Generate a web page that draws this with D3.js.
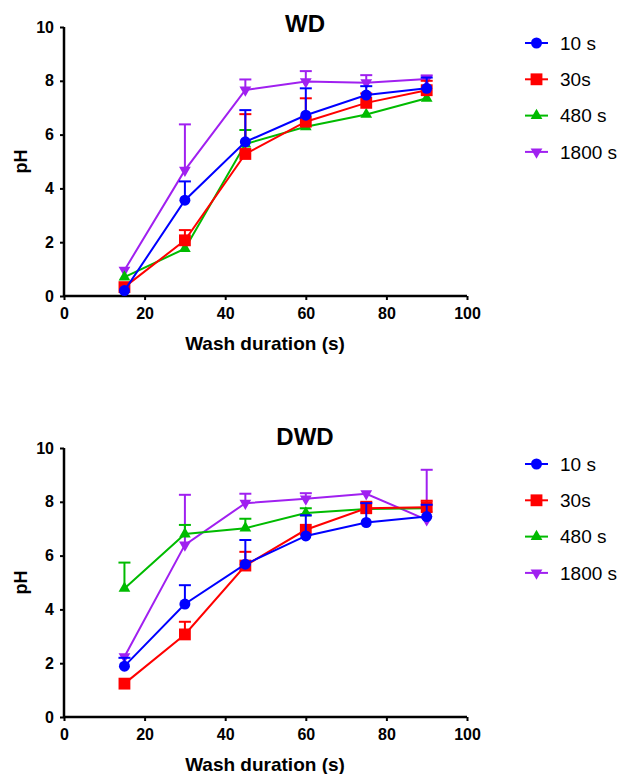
<!DOCTYPE html>
<html>
<head>
<meta charset="utf-8">
<script src="https://cdn.jsdelivr.net/npm/d3@7"></script>
<style>
  body { margin: 0; background: #fff; }
  svg { font-family: "Liberation Sans", Arial, sans-serif; }
</style>
</head>
<body>
<svg id="chart" width="617" height="774"></svg>
<script>
// wash durations (x) shared by every series
const washDurations = [15, 30, 45, 60, 75, 90];

const seriesNames = ["10 s", "30s", "480 s", "1800 s"];
const seriesColours = ["#0000ff", "#ff0000", "#00bb00", "#a020f0"];
const seriesSymbols = ["circle", "square", "triangle", "triangleDown"];

// WD panel: means and upper error bar ends (null = bar hidden)
const wd10 = [0.2, 3.56, 5.73, 6.72, 7.47, 7.72];
const wd10Err = [null, 4.26, 6.91, 7.72, 7.8, 8.12];
const wd30 = [0.33, 2.07, 5.28, 6.48, 7.18, 7.65];
const wd30Err = [null, 2.45, 6.76, 7.35, 7.53, 8.0];
const wd480 = [0.7, 1.76, 5.65, 6.29, 6.75, 7.35];
const wd480Err = [null, null, 6.17, null, null, null];
const wd1800 = [0.96, 4.68, 7.66, 7.97, 7.93, 8.07];
const wd1800Err = [null, 6.38, 8.05, 8.36, 8.21, 8.2];

// DWD panel
const dwd10 = [1.89, 4.2, 5.68, 6.73, 7.23, 7.45];
const dwd10Err = [2.2, 4.9, 6.58, 7.5, 7.95, 7.89];
const dwd30 = [1.24, 3.07, 5.63, 6.96, 7.76, 7.8];
const dwd30Err = [null, 3.54, 6.14, null, 8.0, 8.04];
const dwd480 = [4.78, 6.8, 7.02, 7.58, 7.73, 7.76];
const dwd480Err = [5.74, 7.14, 7.37, 7.76, null, null];
const dwd1800 = [2.24, 6.4, 7.95, 8.11, 8.3, 7.33];
const dwd1800Err = [null, 8.26, 8.3, 8.32, null, 9.19];

const xTicks = [0, 20, 40, 60, 80, 100];
const yTicks = [0, 2, 4, 6, 8, 10];

const panels = [
  { title: "WD", top: 27, titleY: 5, means: [wd10, wd30, wd480, wd1800], errs: [wd10Err, wd30Err, wd480Err, wd1800Err] },
  { title: "DWD", top: 448, titleY: -3, means: [dwd10, dwd30, dwd480, dwd1800], errs: [dwd10Err, dwd30Err, dwd480Err, dwd1800Err] }
];

const svg = d3.select("#chart");
const left = 64, plotW = 403, plotH = 269;

const symbolTypes = {
  circle: d3.symbolCircle,
  square: d3.symbolSquare,
  triangle: d3.symbolTriangle,
  triangleDown: d3.symbolTriangle
};
const symbolSizes = { circle: 95, square: 140, triangle: 60, triangleDown: 60 };

function marker(g, kind, colour) {
  g.append("path")
    .attr("d", d3.symbol(symbolTypes[kind], symbolSizes[kind])())
    .attr("transform", kind === "triangleDown" ? "rotate(180)" : null)
    .attr("fill", colour);
}

panels.forEach(p => {
  const g = svg.append("g").attr("transform", `translate(${left},${p.top})`);
  const x = d3.scaleLinear().domain([0, 100]).range([0, plotW]);
  const y = d3.scaleLinear().domain([0, 10]).range([plotH, 0]);

  // axes
  const xAxis = g.append("g").attr("transform", `translate(0,${plotH})`)
    .call(d3.axisBottom(x).tickValues(xTicks).tickSize(4).tickPadding(8));
  const yAxis = g.append("g")
    .call(d3.axisLeft(y).tickValues(yTicks).tickSize(4).tickPadding(6));
  [xAxis, yAxis].forEach(a => {
    a.select(".domain").attr("stroke", "#000").attr("stroke-width", 2.5);
    a.selectAll(".tick line").attr("stroke", "#000").attr("stroke-width", 2);
    a.selectAll(".tick text")
      .attr("font-size", 16).attr("font-weight", "bold").attr("fill", "#000")
      .attr("font-family", "Liberation Sans, Arial, sans-serif");
  });
  xAxis.select(".domain").attr("d", `M0,0H${plotW}`);
  yAxis.select(".domain").attr("d", `M0,${plotH}V0`);

  g.append("text")
    .attr("x", 241).attr("y", p.titleY)
    .attr("text-anchor", "middle")
    .attr("font-size", 24).attr("font-weight", "bold")
    .text(p.title);

  g.append("text")
    .attr("x", 201).attr("y", plotH + 54)
    .attr("text-anchor", "middle")
    .attr("font-size", 19).attr("font-weight", "bold")
    .text("Wash duration (s)");

  g.append("text")
    .attr("transform", `translate(-37,${plotH / 2}) rotate(-90)`)
    .attr("text-anchor", "middle")
    .attr("font-size", 18).attr("font-weight", "bold")
    .text("pH");

  const line = d3.line().x((d, i) => x(washDurations[i])).y(d => y(d));

  // draw last series first so 10 s ends on top
  d3.range(seriesNames.length).reverse().forEach(s => {
    const colour = seriesColours[s];
    const sg = g.append("g");
    // error bars (upper only)
    p.errs[s].forEach((e, i) => {
      if (e == null) return;
      const cx = x(washDurations[i]);
      sg.append("line")
        .attr("x1", cx).attr("x2", cx)
        .attr("y1", y(p.means[s][i])).attr("y2", y(e))
        .attr("stroke", colour).attr("stroke-width", 2);
      sg.append("line")
        .attr("x1", cx - 6).attr("x2", cx + 6)
        .attr("y1", y(e)).attr("y2", y(e))
        .attr("stroke", colour).attr("stroke-width", 2);
    });
    sg.append("path")
      .attr("d", line(p.means[s]))
      .attr("fill", "none").attr("stroke", colour).attr("stroke-width", 2);
    p.means[s].forEach((v, i) => {
      const m = sg.append("g").attr("transform", `translate(${x(washDurations[i])},${y(v)})`);
      marker(m, seriesSymbols[s], colour);
    });
  });

  // legend
  const lg = g.append("g").attr("transform", `translate(${525 - left},${43 - 27})`);
  seriesNames.forEach((name, s) => {
    const row = lg.append("g").attr("transform", `translate(0,${s * 36.3})`);
    row.append("line").attr("x1", 0).attr("x2", 23)
      .attr("stroke", seriesColours[s]).attr("stroke-width", 2);
    const m = row.append("g").attr("transform", "translate(11.5,0)");
    marker(m, seriesSymbols[s], seriesColours[s]);
    row.append("text")
      .attr("x", 35).attr("y", 0).attr("dy", "0.35em")
      .attr("font-size", 19)
      .text(name);
  });
});
</script>
</body>
</html>
